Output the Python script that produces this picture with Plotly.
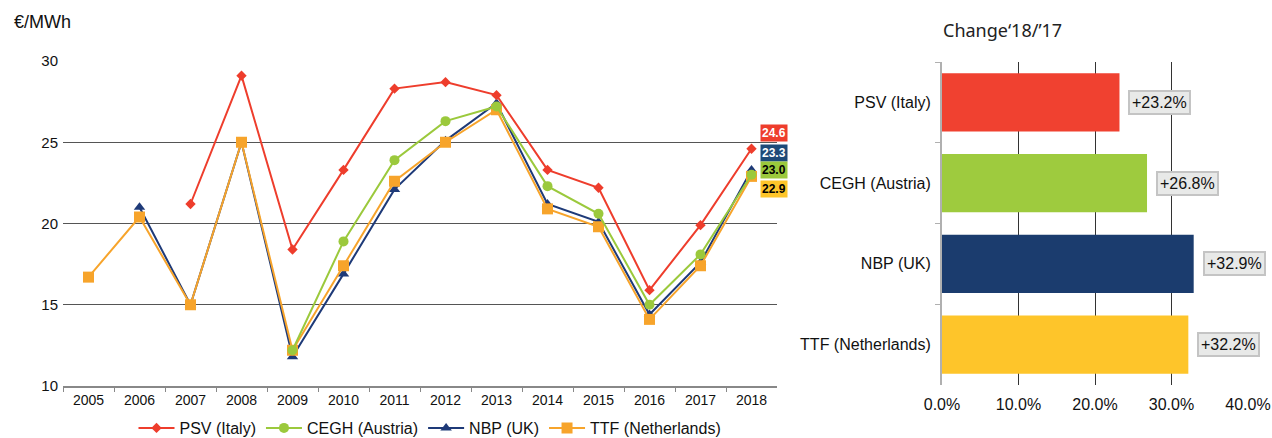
import plotly.graph_objects as go

years = [str(y) for y in range(2005, 2019)]
psv = [None, None, 21.2, 29.1, 18.4, 23.3, 28.3, 28.7, 27.9, 23.3, 22.2, 15.9, 19.9, 24.6]
cegh = [None, None, None, None, 12.2, 18.9, 23.9, 26.3, 27.2, 22.3, 20.6, 15.0, 18.1, 23.0]
nbp = [None, 21.0, 15.0, 25.0, 11.8, 16.9, 22.1, 25.1, 27.4, 21.2, 20.1, 14.4, 17.6, 23.3]
ttf = [16.7, 20.4, 15.0, 25.0, 12.2, 17.4, 22.6, 25.0, 27.0, 20.9, 19.8, 14.1, 17.4, 22.9]

hubs = ["PSV (Italy)", "CEGH (Austria)", "NBP (UK)", "TTF (Netherlands)"]
change = [23.2, 26.8, 32.9, 32.2]
change_labels = ["+23.2%", "+26.8%", "+32.9%", "+32.2%"]

line_colors = ["#EE3D2C", "#9BC93C", "#1E3A78", "#F7A42B"]
bar_colors = ["#F04130", "#9ECB3E", "#1B3C6E", "#FEC52A"]
symbols = ["diamond", "circle", "triangle-up", "square"]
msizes = [8, 10, 10, 11]
series = [psv, cegh, nbp, ttf]

FONT = "Liberation Sans"
fig = go.Figure()

# z-order: NBP bottom, then TTF, CEGH, PSV on top; legend keeps PSV, CEGH, NBP, TTF
for i in [2, 3, 1, 0]:
    fig.add_trace(go.Scatter(
        x=years, y=series[i], name=hubs[i], mode="lines+markers",
        line=dict(color=line_colors[i], width=2),
        marker=dict(symbol=symbols[i], size=msizes[i], color=line_colors[i]),
        connectgaps=False, xaxis="x", yaxis="y", cliponaxis=False, legendrank=i + 1,
    ))

fig.add_trace(go.Bar(
    y=hubs, x=change, orientation="h", marker=dict(color=bar_colors, line=dict(width=0)),
    width=0.72, xaxis="x2", yaxis="y2", showlegend=False,
))

# end-value labels on line chart (order: PSV, NBP, CEGH, TTF top to bottom)
label_order = [0, 2, 1, 3]
label_bg = {0: "#EE3D2C", 2: "#1E4A78", 1: "#9BC93C", 3: "#FEC52A"}
label_fg = {0: "white", 2: "white", 1: "black", 3: "black"}
yshifts = [16, 17, 5, -13]
last_idx = len(years) - 1
for k, i in enumerate(label_order):
    fig.add_annotation(
        x=last_idx, y=series[i][-1], xref="x", yref="y",
        text="<b>%s</b>" % ("%.1f" % series[i][-1]),
        showarrow=False, xanchor="left", xshift=8, yshift=yshifts[k],
        bgcolor=label_bg[i], font=dict(color=label_fg[i], size=12, family=FONT), borderpad=1,
    )

# percent labels on bars
for i in range(4):
    fig.add_annotation(
        x=change[i], y=hubs[i], xref="x2", yref="y2", text=change_labels[i],
        showarrow=False, xanchor="left", xshift=9, bgcolor="#E8E9E8",
        bordercolor="#C4C4C4", borderwidth=2, borderpad=2,
        font=dict(color="#111", size=16, family=FONT),
    )

fig.add_annotation(x=12 / 1272, y=1 - 22 / 438, xref="paper", yref="paper", text="€/MWh",
                   showarrow=False, xanchor="left", yanchor="middle",
                   font=dict(size=18, color="#111", family=FONT))
fig.add_annotation(x=941 / 1272, y=1 - 30 / 438, xref="paper", yref="paper", text="Change\u201818/\u201917",
                   showarrow=False, xanchor="left", yanchor="middle",
                   font=dict(size=18, color="#222", family="Noto Sans"))

fig.update_layout(
    width=1272, height=438, margin=dict(l=0, r=0, t=0, b=0, autoexpand=False),
    paper_bgcolor="white", plot_bgcolor="white",
    font=dict(family=FONT, size=14, color="#111"),
    showlegend=True,
    legend=dict(orientation="h", x=430 / 1272, xanchor="center", y=1 - 428 / 438, yanchor="middle",
                font=dict(size=16, color="#111", family=FONT), itemwidth=36, traceorder="normal"),
    xaxis=dict(domain=[63 / 1272, 777 / 1272], type="category", range=[-0.5, 13.5],
               showgrid=False, showline=True, linecolor="#888", linewidth=1.5,
               ticks="outside", tickson="boundaries", ticklen=4, tickcolor="#888",
               tickfont=dict(size=14), anchor="y", automargin=False),
    yaxis=dict(domain=[1 - 386 / 438, 1 - 61 / 438], range=[10, 30], tickvals=[10, 15, 20, 25, 30],
               showgrid=True, gridcolor="#555", gridwidth=1, zeroline=False, showline=False,
               ticks="", tickfont=dict(size=15), anchor="x", automargin=False, ticklabelstandoff=4),
    xaxis2=dict(domain=[942 / 1272, 1248 / 1272], range=[0, 40], tickvals=[0, 10, 20, 30, 40],
                ticktext=["0.0%", "10.0%", "20.0%", "30.0%", "40.0%"],
                showgrid=True, gridcolor="#333", gridwidth=1, zeroline=False, showline=False,
                tickfont=dict(size=16), anchor="y2", automargin=False, ticklabelstandoff=8),
    yaxis2=dict(domain=[1 - 385 / 438, 1 - 62 / 438], type="category", autorange="reversed",
                showline=True, linecolor="#B0B0B0", linewidth=2, ticks="outside",
                tickson="boundaries", ticklen=5, tickcolor="#B0B0B0",
                showgrid=False, tickfont=dict(size=16), anchor="x2", automargin=False,
                ticklabelstandoff=6),
)

fig.write_html("out.html", config={"displayModeBar": False},
               post_script="document.body.style.margin='0px';document.body.style.overflow='hidden';")
